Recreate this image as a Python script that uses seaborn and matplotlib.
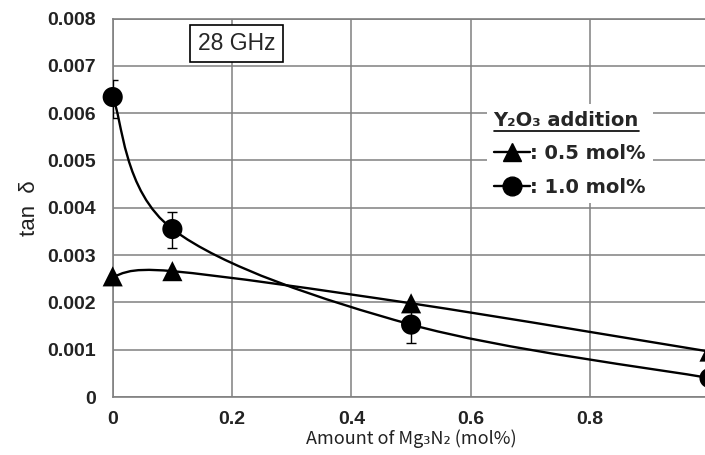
import numpy as np
import pandas as pd
import matplotlib
matplotlib.use("Agg")
import matplotlib.pyplot as plt
import seaborn as sns
from matplotlib.path import Path
from matplotlib.patches import PathPatch
from matplotlib.lines import Line2D

# --- data ---
mg3n2 = [0.0, 0.1, 0.5, 1.0]
tan_y05 = [0.00255, 0.00266, 0.00198, 0.00096]
tan_y10 = [0.00634, 0.00355, 0.00153, 0.00040]
err_y10_low = [0.00044, 0.00041, 0.00039, 0.0]
err_y10_high = [0.00037, 0.00037, 0.00035, 0.0]
series_labels = [": 0.5 mol%", ": 1.0 mol%"]
xticks = [0, 0.2, 0.4, 0.6, 0.8, 1.0]
xticklabels = ["0", "0.2", "0.4", "0.6", "0.8", ""]
yticks = [0, 0.001, 0.002, 0.003, 0.004, 0.005, 0.006, 0.007, 0.008]

df = pd.DataFrame({
    "x": mg3n2 * 2,
    "tan": tan_y05 + tan_y10,
    "series": [series_labels[0]] * 4 + [series_labels[1]] * 4,
})

sns.set_style("white")
plt.rcParams["font.family"] = ["Liberation Sans", "DejaVu Sans"]

GRID = "#808080"
INK = "#222222"


def smooth_path(xs, ys):
    """Excel-like smoothed line: cubic Bezier through the points."""
    pts = np.column_stack([xs, ys])
    n = len(pts)
    verts = [pts[0]]
    codes = [Path.MOVETO]
    for i in range(n - 1):
        p0 = pts[max(i - 1, 0)]
        p1 = pts[i]
        p2 = pts[i + 1]
        p3 = pts[min(i + 2, n - 1)]
        verts += [p1 + (p2 - p0) / 6, p2 - (p3 - p1) / 6, p2]
        codes += [Path.CURVE4] * 3
    return Path(verts, codes)


fig = plt.figure(figsize=(7.05, 4.55), dpi=100)
ax = fig.add_axes([112.7 / 705, 58 / 455, 596.8 / 705, 378.5 / 455])

# smoothed connecting lines
for ys in (tan_y05, tan_y10):
    ax.add_patch(PathPatch(smooth_path(mg3n2, ys), facecolor="none",
                           edgecolor="black", lw=1.7, zorder=3, clip_on=False))

# error bars on the 1.0 mol% series
ax.errorbar(mg3n2, tan_y10, yerr=[err_y10_low, err_y10_high], fmt="none",
            ecolor="black", elinewidth=1.0, capsize=3.5, capthick=1.0, zorder=3)

sns.scatterplot(data=df, x="x", y="tan", style="series",
                markers={series_labels[0]: "^", series_labels[1]: "o"},
                color="black", edgecolor="black", linewidth=0, s=210,
                ax=ax, legend=False, zorder=4, clip_on=False)

ax.set_xlim(0, 1.0)
ax.set_ylim(0, 0.008)
ax.set_xticks(xticks)
ax.set_yticks(yticks)
ax.set_xticklabels(xticklabels, fontsize=14, fontweight="bold", color=INK)
ax.set_yticklabels(["0" if v == 0 else f"{v:.3f}" for v in yticks],
                   fontsize=14, fontweight="bold", color=INK)
ax.tick_params(axis="both", length=0)
ax.tick_params(axis="y", pad=12)
ax.tick_params(axis="x", pad=10)
ax.grid(True, color=GRID, lw=1.1)
ax.set_axisbelow(True)
for side in ax.spines.values():
    side.set_color(GRID)
    side.set_linewidth(1.2)

ax.set_xlabel("Amount of Mg₃N₂ (mol%)", fontsize=13,
              family=["Noto Sans CJK JP", "DejaVu Sans"], color=INK,
              labelpad=1)
ax.set_ylabel("tan  δ", fontsize=16, color=INK, labelpad=5)

# frequency box
ax.text(236.5 / 705, 1 - 43.5 / 455, "28 GHz", transform=fig.transFigure,
        fontsize=16.5, ha="center", va="center", zorder=6,
        bbox=dict(boxstyle="square,pad=0.32", facecolor="white",
                  edgecolor="black", lw=1.2))

# legend
handles = [
    Line2D([], [], color="black", lw=1.7, marker="^", markersize=13.5),
    Line2D([], [], color="black", lw=1.7, marker="o", markersize=13.5),
]
legend_font = dict(family=["DejaVu Sans"], size=14, weight="bold")
leg = ax.legend(handles, series_labels, title="Y₂O₃ addition",
                loc="upper left", bbox_to_anchor=(477 / 705, 1 - 94 / 455),
                bbox_transform=fig.transFigure, frameon=True,
                facecolor="white", edgecolor="none", framealpha=1,
                fancybox=False, handlelength=1.9, handletextpad=0.0,
                labelspacing=0.75, borderpad=0.35, alignment="left",
                prop=legend_font, title_fontproperties=legend_font)
leg.set_zorder(5)

fig.canvas.draw()
tb = leg.get_title().get_window_extent()
fig.add_artist(Line2D([tb.x0 / 705, tb.x1 / 705],
                      [(tb.y0 - 1) / 455, (tb.y0 - 1) / 455],
                      transform=fig.transFigure, color="black", lw=1.2,
                      zorder=7))

fig.savefig("out.png", dpi=100)
